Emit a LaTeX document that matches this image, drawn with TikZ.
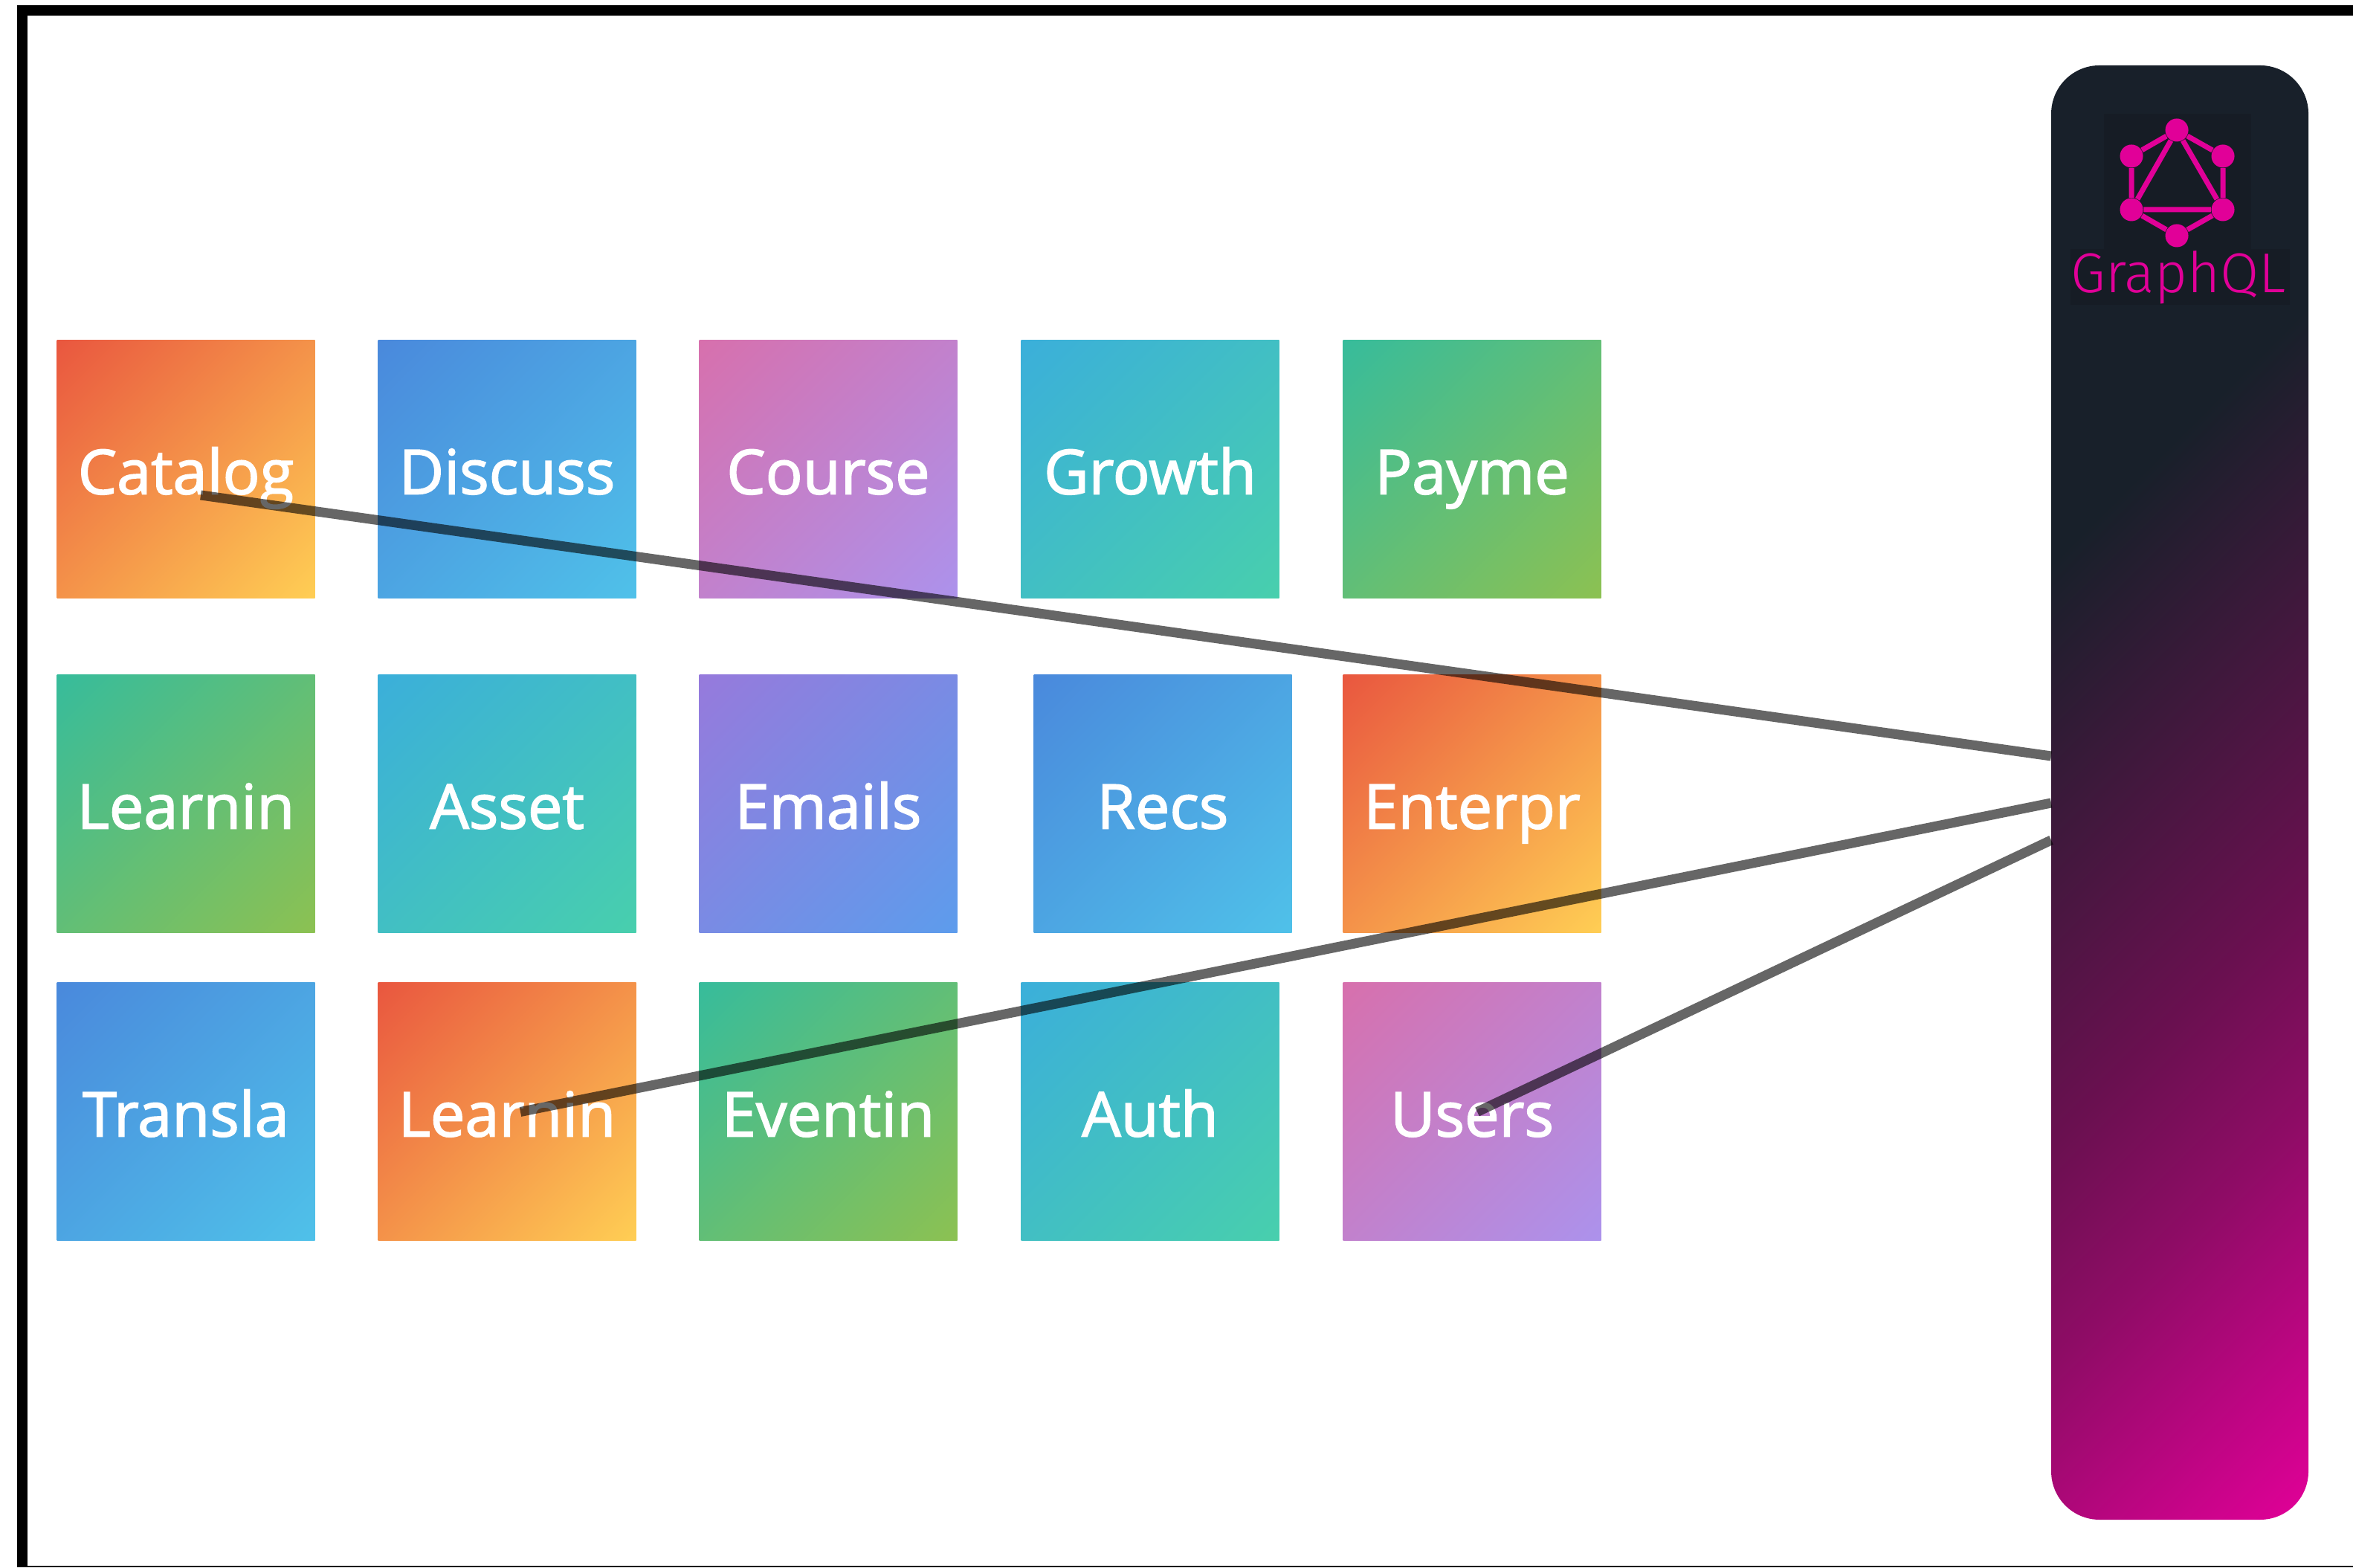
\documentclass[tikz,border=0pt]{standalone}
\usepackage{fontspec}
\usepackage{tikz}
\setmainfont{Open Sans}[UprightFeatures={FakeBold=2}]
\newfontfamily\logofont{Fira Sans Light}

\definecolor{warm_a}{HTML}{E9573F}
\definecolor{warm_b}{HTML}{FFCE54}
\definecolor{blue_a}{HTML}{4A89DC}
\definecolor{blue_b}{HTML}{4FC1E9}
\definecolor{rose_a}{HTML}{D770AD}
\definecolor{rose_b}{HTML}{AC92EC}
\definecolor{teal_a}{HTML}{3BAFDA}
\definecolor{teal_b}{HTML}{48CFAD}
\definecolor{green_a}{HTML}{37BC9B}
\definecolor{green_b}{HTML}{8CC152}
\definecolor{violet_a}{HTML}{967ADC}
\definecolor{violet_b}{HTML}{5D9CEC}
\definecolor{panel_dark}{HTML}{18202A}
\definecolor{panel_back}{HTML}{161C25}
\definecolor{panel_mid}{HTML}{6A1050}
\definecolor{panel_low}{HTML}{8F0C66}
\definecolor{graphql_pink}{HTML}{E10098}

\pgfdeclarehorizontalshading{warm_fade}{100bp}{color(0bp)=(warm_a); color(14.64bp)=(warm_a); color(85.36bp)=(warm_b); color(100bp)=(warm_b)}
\pgfdeclarehorizontalshading{blue_fade}{100bp}{color(0bp)=(blue_a); color(14.64bp)=(blue_a); color(85.36bp)=(blue_b); color(100bp)=(blue_b)}
\pgfdeclarehorizontalshading{rose_fade}{100bp}{color(0bp)=(rose_a); color(14.64bp)=(rose_a); color(85.36bp)=(rose_b); color(100bp)=(rose_b)}
\pgfdeclarehorizontalshading{teal_fade}{100bp}{color(0bp)=(teal_a); color(14.64bp)=(teal_a); color(85.36bp)=(teal_b); color(100bp)=(teal_b)}
\pgfdeclarehorizontalshading{green_fade}{100bp}{color(0bp)=(green_a); color(14.64bp)=(green_a); color(85.36bp)=(green_b); color(100bp)=(green_b)}
\pgfdeclarehorizontalshading{violet_fade}{100bp}{color(0bp)=(violet_a); color(14.64bp)=(violet_a); color(85.36bp)=(violet_b); color(100bp)=(violet_b)}
\pgfdeclarehorizontalshading{panel_fade}{100bp}{color(0bp)=(panel_dark); color(42.57bp)=(panel_dark); color(54.7bp)=(panel_mid); color(59.37bp)=(panel_low); color(67.68bp)=(graphql_pink); color(100bp)=(graphql_pink)}

\begin{document}
\begin{tikzpicture}[
	grad_node/.style={rectangle, minimum size=3.47cm, inner sep=0pt, outer sep=0pt, text=white, text height=0.66cm, text depth=0pt, font=\fontsize{23.6}{28}\selectfont, shade, shading=#1, shading angle=-45},
	link/.style={black, opacity=0.6, line width=0.13cm},
	frame_line/.style={black, line width=0.14cm},
	logo_dot/.style={circle, fill=graphql_pink, inner sep=0pt, minimum size=0.31cm},
	logo_line/.style={graphql_pink, line width=0.07cm},
	back_node/.style={rectangle, fill=panel_back, inner sep=0pt, outer sep=0pt}]

	\useasboundingbox (0,0) rectangle (31.65,21.08);

	\fill[white] (0,0) rectangle (31.65,21.08);
	\draw[frame_line] (31.65,20.94) -- (0.30,20.94) -- (0.30,0);
	\draw[black, line width=0.02cm] (0.23,0.01) -- (31.65,0.01);

	\node[grad_node=warm_fade] (catalog) at (2.50, 14.765) {Catalog};
	\node[grad_node=blue_fade] (discuss) at (6.82, 14.765) {Discuss};
	\node[grad_node=rose_fade] (course) at (11.14, 14.765) {Course};
	\node[grad_node=teal_fade] (growth) at (15.47, 14.765) {Growth};
	\node[grad_node=green_fade] (payme) at (19.80, 14.765) {Payme};

	\node[grad_node=green_fade] (learnin_a) at (2.50, 10.265) {Learnin};
	\node[grad_node=teal_fade] (asset) at (6.82, 10.265) {Asset};
	\node[grad_node=violet_fade] (emails) at (11.14, 10.265) {Emails};
	\node[grad_node=blue_fade] (recs) at (15.64, 10.265) {Recs};
	\node[grad_node=warm_fade] (enterpr) at (19.80, 10.265) {Enterpr};

	\node[grad_node=blue_fade] (transla) at (2.50, 6.125) {Transla};
	\node[grad_node=warm_fade] (learnin_b) at (6.82, 6.125) {Learnin};
	\node[grad_node=green_fade] (eventin) at (11.14, 6.125) {Eventin};
	\node[grad_node=teal_fade] (auth) at (15.47, 6.125) {Auth};
	\node[grad_node=rose_fade] (users) at (19.80, 6.125) {Users};

	\node[rectangle, minimum width=3.46cm, minimum height=19.56cm, inner sep=0pt, outer sep=0pt, rounded corners=0.65cm, path picture={
		\node[shade, shading=panel_fade, shading angle=-45, minimum size=23.02cm, inner sep=0pt] at (path picture bounding box.center) {};
	}] (panel) at (29.32, 10.42) {};

	\draw[link] ([shift={(0.20,-0.345)}]catalog.center) -- ([yshift=0.49cm]panel.west);
	\draw[link] ([shift={(0.18,0)}]learnin_b.center) -- ([yshift=-0.14cm]panel.west);
	\draw[link] ([shift={(0.07,0)}]users.center) -- ([yshift=-0.64cm]panel.west);

	\node[back_node, minimum width=1.98cm, minimum height=1.82cm] (logo_back) at (29.29, 18.64) {};
	\node[back_node, minimum width=2.95cm, minimum height=0.75cm] (text_back) at (29.32, 17.355) {};

	\node[logo_dot] (top) at (29.28, 19.33) {};
	\node[logo_dot] (up_left) at (28.67, 18.98) {};
	\node[logo_dot] (up_right) at (29.90, 18.98) {};
	\node[logo_dot] (low_left) at (28.67, 18.26) {};
	\node[logo_dot] (low_right) at (29.90, 18.26) {};
	\node[logo_dot] (bottom) at (29.28, 17.91) {};

	\draw[logo_line] (top) -- (up_right) -- (low_right) -- (bottom) -- (low_left) -- (up_left) -- (top);
	\draw[logo_line] (top) -- (low_left) -- (low_right) -- (top);

	\node[anchor=base, inner sep=0pt, text=graphql_pink, font=\logofont\fontsize{21.5}{25}\selectfont] (graphql) at (29.30, 17.14) {GraphQL};

\end{tikzpicture}
\end{document}
